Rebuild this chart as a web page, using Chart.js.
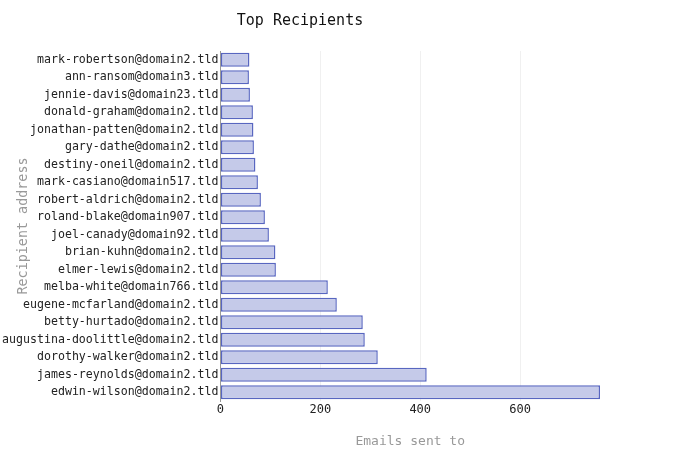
<!DOCTYPE html>
<html>
<head>
<meta charset="utf-8">
<script src="https://cdn.jsdelivr.net/npm/chart.js@4/dist/chart.umd.min.js"></script>
<style>
html,body{margin:0;padding:0;background:#fff;}
#wrap{width:700px;height:450px;}
</style>
</head>
<body>
<div id="wrap"><canvas id="c" width="700" height="450"></canvas></div>
<script>
const recipients = [
  "mark-robertson@domain2.tld",
  "ann-ransom@domain3.tld",
  "jennie-davis@domain23.tld",
  "donald-graham@domain2.tld",
  "jonathan-patten@domain2.tld",
  "gary-dathe@domain2.tld",
  "destiny-oneil@domain2.tld",
  "mark-casiano@domain517.tld",
  "robert-aldrich@domain2.tld",
  "roland-blake@domain907.tld",
  "joel-canady@domain92.tld",
  "brian-kuhn@domain2.tld",
  "elmer-lewis@domain2.tld",
  "melba-white@domain766.tld",
  "eugene-mcfarland@domain2.tld",
  "betty-hurtado@domain2.tld",
  "augustina-doolittle@domain2.tld",
  "dorothy-walker@domain2.tld",
  "james-reynolds@domain2.tld",
  "edwin-wilson@domain2.tld"
];
const emailsSent = [58, 57, 59, 65, 66, 67, 70, 75, 81, 89, 97, 110, 111, 215, 233, 285, 289, 315, 413, 760];
const xTickValues = [0, 200, 400, 600];
const chartTitle = "Top Recipients";
const xTitle = "Emails sent to";
const yTitle = "Recipient address";

const mono = "'DejaVu Sans Mono', monospace";

new Chart(document.getElementById('c'), {
  type: 'bar',
  data: {
    labels: recipients,
    datasets: [{
      data: emailsSent,
      backgroundColor: 'rgba(197,202,233,1)',
      borderColor: 'rgba(88,102,192,1)',
      borderWidth: 1.5,
      borderSkipped: false,
      barPercentage: 0.9,
      categoryPercentage: 0.9
    }]
  },
  options: {
    indexAxis: 'y',
    responsive: false,
    animation: false,
    devicePixelRatio: 1,
    layout: { padding: { left: 0, right: 100, top: 0, bottom: 0 } },
    plugins: {
      legend: { display: false },
      tooltip: { enabled: false },
      title: {
        display: true,
        text: chartTitle,
        color: '#111',
        font: { family: mono, size: 15, weight: 'normal' },
        padding: { top: 12, bottom: 21 }
      }
    },
    scales: {
      x: {
        min: 0,
        max: Math.max(...emailsSent),
        afterBuildTicks: axis => { axis.ticks = xTickValues.map(v => ({ value: v })); },
        ticks: {
          color: '#222',
          font: { family: mono, size: 12 },
          padding: 2
        },
        grid: { color: 'rgba(0,0,0,0.06)', drawTicks: false },
        border: { display: false },
        title: {
          display: true,
          text: xTitle,
          color: '#999',
          font: { family: mono, size: 13 },
          padding: { top: 14, bottom: 1 }
        }
      },
      y: {
        ticks: {
          color: '#222',
          font: { family: mono, size: 11.6 },
          padding: 2,
          autoSkip: false
        },
        grid: { display: false, drawTicks: false },
        border: { display: true, color: '#999' },
        title: {
          display: true,
          text: yTitle,
          color: '#999',
          font: { family: mono, size: 13.4 },
          padding: { top: 15, bottom: -31 }
        }
      }
    }
  }
});
</script>
</body>
</html>
